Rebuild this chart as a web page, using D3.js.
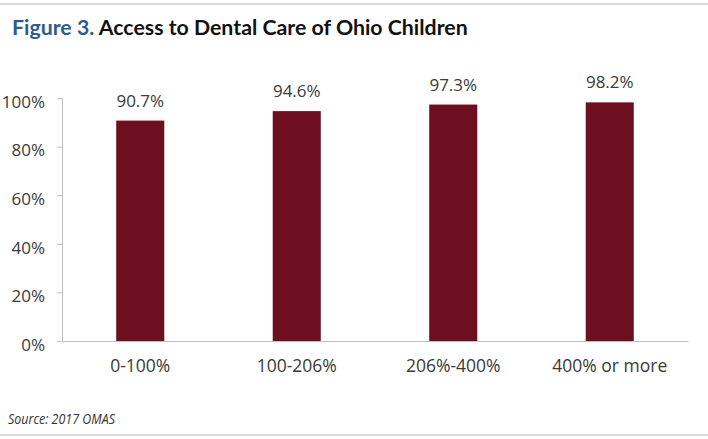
<!DOCTYPE html>
<html>
<head>
<meta charset="utf-8">
<script src="https://cdn.jsdelivr.net/npm/d3@7"></script>
<style>
  html, body { margin: 0; padding: 0; background: #fff; }
  svg { display: block; }
</style>
</head>
<body>
<svg id="chart" width="708" height="439"></svg>
<script>
// Share of Ohio children with access to dental care, by family income (% of FPL)
const categories = ["0-100%", "100-206%", "206%-400%", "400% or more"];
const values = [90.7, 94.6, 97.3, 98.2];
const yTicks = [0, 20, 40, 60, 80, 100];

const svg = d3.select("#chart");
const W = 708, H = 439;
const plot = { left: 62, right: 688, top: 98, bottom: 341 };
const barColor = "#6D0F1F";
const axisColor = "#BFBFBF";
const textColor = "#3A3A3A";
const bodyFont = "'Open Sans', 'Noto Sans', sans-serif";

// Frame rules above the title and below the source note
svg.append("line").attr("x1", 0).attr("x2", W).attr("y1", 4).attr("y2", 4)
  .attr("stroke", "#D9D9D9").attr("stroke-width", 2);
svg.append("line").attr("x1", 0).attr("x2", W).attr("y1", 435).attr("y2", 435)
  .attr("stroke", "#D9D9D9").attr("stroke-width", 2);

// Title
const title = svg.append("text").attr("x", 12).attr("y", 35)
  .attr("font-family", "Lato, 'Open Sans', sans-serif")
  .attr("font-weight", "bold").attr("font-size", 21.3);
title.append("tspan").attr("fill", "#2E5C8E").text("Figure 3. ");
title.append("tspan").attr("fill", "#111").text("Access to Dental Care of Ohio Children");

// Scales
const x = d3.scaleBand().domain(categories).range([plot.left, plot.right]).paddingInner(0).paddingOuter(0);
const y = d3.scaleLinear().domain([0, 100]).range([plot.bottom, plot.top]);
const barW = x.bandwidth() * 0.307;

// Y axis
const yAxis = svg.append("g").attr("transform", `translate(${plot.left},0)`)
  .call(d3.axisLeft(y).tickValues(yTicks).tickSize(5).tickPadding(12).tickFormat(d => d + "%"));
yAxis.select(".domain").attr("stroke", axisColor);
yAxis.selectAll(".tick line").attr("stroke", axisColor);
yAxis.selectAll(".tick text").attr("fill", textColor)
  .attr("font-family", bodyFont).attr("font-size", 17).attr("dy", "0.55em");

// X axis baseline and labels
const xAxis = svg.append("g").attr("transform", `translate(0,${plot.bottom})`)
  .call(d3.axisBottom(x).tickSize(0).tickPadding(19).tickSizeOuter(0));
xAxis.select(".domain").attr("stroke", axisColor);
xAxis.selectAll(".tick text").attr("fill", textColor)
  .attr("font-family", bodyFont).attr("font-size", 17.5);

// Bars
svg.append("g").selectAll("rect").data(values).join("rect")
  .attr("x", (d, i) => x(categories[i]) + x.bandwidth() / 2 - barW / 2)
  .attr("width", barW)
  .attr("y", d => y(d))
  .attr("height", d => y(0) - y(d))
  .attr("fill", barColor);

// Value labels
svg.append("g").selectAll("text").data(values).join("text")
  .attr("x", (d, i) => x(categories[i]) + x.bandwidth() / 2)
  .attr("y", d => y(d) - 14)
  .attr("text-anchor", "middle")
  .attr("fill", textColor)
  .attr("font-family", bodyFont).attr("font-size", 17)
  .text(d => d.toFixed(1) + "%");

// Source note
svg.append("text").attr("x", 8).attr("y", 424)
  .attr("font-family", bodyFont).attr("font-style", "italic")
  .attr("font-size", 15).attr("fill", "#333")
  .attr("textLength", 107).attr("lengthAdjust", "spacingAndGlyphs")
  .text("Source: 2017 OMAS");
</script>
</body>
</html>
